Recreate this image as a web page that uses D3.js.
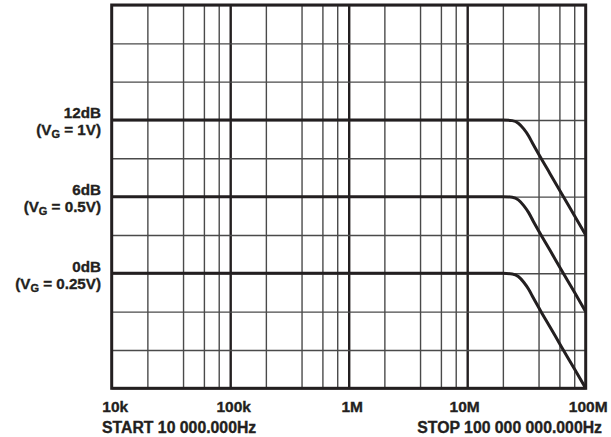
<!DOCTYPE html>
<html>
<head>
<meta charset="utf-8">
<script src="https://cdn.jsdelivr.net/npm/d3@7"></script>
<style>
  html, body { margin: 0; padding: 0; background: #ffffff; }
  svg { display: block; }
  text { font-family: "Liberation Sans", Arial, Helvetica, sans-serif; font-weight: bold; fill: #231f20; stroke: #231f20; stroke-width: 0.35px; }
</style>
</head>
<body>
<div id="chart"></div>
<script>
// ---- Data ----
const decadeTicks = [1e4, 1e5, 1e6, 1e7, 1e8];
const decadeLabels = ["10k", "100k", "1M", "10M", "100M"];
const minorMultipliers = [2, 4, 6, 8];
const gainGridDb = [-9, -6, -3, 0, 3, 6, 9, 12, 15, 18, 21];

const freqHz   = [1e4, 2.0e7, 2.4e7, 2.7e7, 3.0e7, 3.3e7, 3.6e7, 4.2e7, 5.0e7, 6.2e7, 8.0e7, 1e8];
const gain12dB = [12, 12, 11.95, 11.75, 11.3, 10.75, 10.1, 9.0, 7.8, 6.3, 4.55, 3.0];
const gain6dB  = [6, 6, 5.95, 5.75, 5.3, 4.75, 4.1, 3.0, 1.8, 0.3, -1.45, -3.0];
const gain0dB  = [0, 0, -0.05, -0.25, -0.7, -1.25, -1.9, -3.0, -4.2, -5.7, -7.45, -9.0];

const levelDb = [12, 6, 0];
const levelLabel = ["12dB", "6dB", "0dB"];
const levelVg = ["1V", "0.5V", "0.25V"];

const startLabel = "START 10 000.000Hz";
const stopLabel = "STOP 100 000 000.000Hz";

// ---- Layout ----
const W = 611, H = 437;
const margin = { left: 111.7, top: 5, right: 25.3, bottom: 48.7 };
const iw = W - margin.left - margin.right;
const ih = H - margin.top - margin.bottom;

const svg = d3.select("#chart").append("svg").attr("width", W).attr("height", H);
const g = svg.append("g").attr("transform", `translate(${margin.left},${margin.top})`);

const x = d3.scaleLog().domain([1e4, 1e8]).range([0, iw]);
const y = d3.scaleLinear().domain([-9, 21]).range([ih, 0]);

// minor vertical grid
const minorFreqs = [];
decadeTicks.slice(0, -1).forEach(d => minorMultipliers.forEach(m => minorFreqs.push(d * m)));

const gridColor = "#4a4a4a";
g.append("g").attr("class", "vminor")
  .call(d3.axisBottom(x).tickValues(minorFreqs).tickSize(-ih).tickFormat(""))
  .attr("transform", `translate(0,${ih})`)
  .call(s => s.select(".domain").remove())
  .call(s => s.selectAll("line").attr("stroke", gridColor).attr("stroke-width", 1.4));

// decade vertical grid (bolder)
g.append("g").attr("class", "vmajor")
  .call(d3.axisBottom(x).tickValues(decadeTicks.slice(1, -1)).tickSize(-ih).tickFormat(""))
  .attr("transform", `translate(0,${ih})`)
  .call(s => s.select(".domain").remove())
  .call(s => s.selectAll("line").attr("stroke", "#231f20").attr("stroke-width", 2.4));

// horizontal grid
g.append("g").attr("class", "hgrid")
  .call(d3.axisLeft(y).tickValues(gainGridDb).tickSize(-iw).tickFormat(""))
  .call(s => s.select(".domain").remove())
  .call(s => s.selectAll("line").attr("stroke", gridColor).attr("stroke-width", 1.4));

// curves
g.append("clipPath").attr("id", "clip").append("rect").attr("width", iw).attr("height", ih);
const line = d3.line().x(d => x(d[0])).y(d => y(d[1])).curve(d3.curveMonotoneX);
[gain12dB, gain6dB, gain0dB].forEach(series => {
  g.append("path")
    .datum(freqHz.map((f, i) => [f, series[i]]))
    .attr("d", line)
    .attr("fill", "none")
    .attr("stroke", "#231f20")
    .attr("stroke-width", 3)
    .attr("stroke-linejoin", "round")
    .attr("clip-path", "url(#clip)");
});

// border
g.append("rect").attr("width", iw).attr("height", ih)
  .attr("fill", "none").attr("stroke", "#231f20").attr("stroke-width", 3);

// x tick labels
const xa = g.append("g").attr("transform", `translate(0,${ih})`)
  .call(d3.axisBottom(x).tickValues(decadeTicks).tickSize(0).tickPadding(0)
    .tickFormat((d, i) => decadeLabels[i]));
xa.select(".domain").remove();
xa.selectAll("text")
  .attr("y", 23.5).attr("dy", null)
  .attr("font-size", 15.5)
  .attr("font-family", "'Liberation Sans', Arial, sans-serif")
  .attr("font-weight", "bold")
  .attr("fill", "#231f20")
  .attr("dx", (d, i) => i === 0 ? 3 : (i === 3 ? -3 : (i === 4 ? 2 : 3)));

svg.append("text").attr("x", 102).attr("y", 433)
  .attr("font-size", 15.8).text(startLabel);
svg.append("text").attr("x", 602).attr("y", 433).attr("text-anchor", "end")
  .attr("font-size", 15.8).text(stopLabel);

// level labels
levelDb.forEach((db, i) => {
  const yy = margin.top + y(db);
  svg.append("text").attr("x", 101).attr("y", yy - 1.5)
    .attr("text-anchor", "end").attr("font-size", 15.2).text(levelLabel[i]);
  const t = svg.append("text").attr("x", 101).attr("y", yy + 15.5)
    .attr("text-anchor", "end").attr("font-size", 15.2);
  t.append("tspan").text("(V");
  t.append("tspan").attr("font-size", 11).attr("dy", 3).text("G");
  t.append("tspan").attr("dy", -3).text(" = " + levelVg[i] + ")");
});
</script>
</body>
</html>
